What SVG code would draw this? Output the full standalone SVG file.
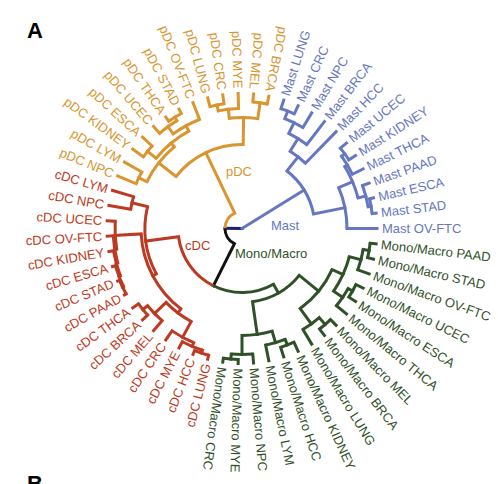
<svg xmlns="http://www.w3.org/2000/svg" width="498" height="484" viewBox="0 0 498 484">
<style>
.e{fill:none;stroke-width:3;stroke-linecap:square}
.a{fill:none;stroke-width:3}
.ms{stroke:#6677C2}.pd{stroke:#D9952E}.cd{stroke:#BD3A22}.mo{stroke:#2F5128}.bk{stroke:#111111}.nv{stroke:#1C1F6E}
text{font-family:"Liberation Sans",Arial,sans-serif;font-size:13px}
.l{dominant-baseline:central}
.f{text-anchor:end}
.tms{fill:#6677C2}.tpd{fill:#D9952E}.tcd{fill:#BD3A22}.tmo{fill:#2F5128}
</style>
<rect width="498" height="484" fill="#ffffff"/>
<g id="connectors" transform="translate(242,228.5)">
<!-- root -->
<line class="e nv" x1="0" x2="17" transform="rotate(180.55)"/>
<line class="e ms" x1="0" x2="73" transform="rotate(328.295)"/>
<circle class="a bk" r="17" pathLength="360" stroke-dasharray="63.985 400" transform="rotate(116.565)"/>
<circle class="a pd" r="17" pathLength="360" stroke-dasharray="63.984 400" transform="rotate(180.55)"/>
<line class="e bk" x1="17" x2="64" transform="rotate(116.565)"/>
<line class="e pd" x1="17" x2="84" transform="rotate(244.534)"/>
<!-- Mast -->
<circle class="a ms" r="73" pathLength="360" stroke-dasharray="40.5 400" transform="rotate(308.045)"/>
<circle class="a ms" r="91" pathLength="360" stroke-dasharray="12.273 400" transform="rotate(301.909)"/>
<circle class="a ms" r="106" pathLength="360" stroke-dasharray="11.454 400" transform="rotate(296.182)"/>
<circle class="a ms" r="118" pathLength="360" stroke-dasharray="9.818 400" transform="rotate(291.273)"/>
<circle class="a ms" r="126" pathLength="360" stroke-dasharray="6.545 400" transform="rotate(288)"/>
<circle class="a ms" r="105" pathLength="360" stroke-dasharray="22.909 400" transform="rotate(337.091)"/>
<circle class="a ms" r="120" pathLength="360" stroke-dasharray="16.364 400" transform="rotate(328.909)"/>
<circle class="a ms" r="123" pathLength="360" stroke-dasharray="9.818 400" transform="rotate(324)"/>
<circle class="a ms" r="127" pathLength="360" stroke-dasharray="6.546 400" transform="rotate(320.727)"/>
<circle class="a ms" r="128" pathLength="360" stroke-dasharray="9.818 400" transform="rotate(340.364)"/>
<circle class="a ms" r="131" pathLength="360" stroke-dasharray="6.546 400" transform="rotate(346.909)"/>
<line class="e ms" x1="73" x2="91" transform="rotate(308.045)"/>
<line class="e ms" x1="73" x2="105" transform="rotate(348.545)"/>
<line class="e ms" x1="91" x2="106" transform="rotate(301.909)"/>
<line class="e ms" x1="91" x2="135" transform="rotate(314.182)"/>
<line class="e ms" x1="106" x2="118" transform="rotate(296.182)"/>
<line class="e ms" x1="106" x2="135" transform="rotate(307.636)"/>
<line class="e ms" x1="118" x2="126" transform="rotate(291.273)"/>
<line class="e ms" x1="118" x2="135" transform="rotate(301.091)"/>
<line class="e ms" x1="126" x2="135" transform="rotate(288)"/>
<line class="e ms" x1="126" x2="135" transform="rotate(294.545)"/>
<line class="e ms" x1="105" x2="120" transform="rotate(337.091)"/>
<line class="e ms" x1="105" x2="135" transform="rotate(360)"/>
<line class="e ms" x1="120" x2="123" transform="rotate(328.909)"/>
<line class="e ms" x1="120" x2="128" transform="rotate(345.273)"/>
<line class="e ms" x1="123" x2="127" transform="rotate(324)"/>
<line class="e ms" x1="123" x2="135" transform="rotate(333.818)"/>
<line class="e ms" x1="127" x2="135" transform="rotate(320.727)"/>
<line class="e ms" x1="127" x2="135" transform="rotate(327.273)"/>
<line class="e ms" x1="128" x2="135" transform="rotate(340.364)"/>
<line class="e ms" x1="128" x2="131" transform="rotate(350.182)"/>
<line class="e ms" x1="131" x2="135" transform="rotate(346.909)"/>
<line class="e ms" x1="131" x2="135" transform="rotate(353.455)"/>
<!-- pDC -->
<circle class="a pd" r="84" pathLength="360" stroke-dasharray="52.568 400" transform="rotate(218.25)"/>
<circle class="a pd" r="106" pathLength="360" stroke-dasharray="24.136 400" transform="rotate(206.182)"/>
<circle class="a pd" r="115" pathLength="360" stroke-dasharray="6.546 400" transform="rotate(202.909)"/>
<circle class="a pd" r="111" pathLength="360" stroke-dasharray="22.091 400" transform="rotate(219.273)"/>
<circle class="a pd" r="122" pathLength="360" stroke-dasharray="6.545 400" transform="rotate(216)"/>
<circle class="a pd" r="117" pathLength="360" stroke-dasharray="14.727 400" transform="rotate(234)"/>
<circle class="a pd" r="126" pathLength="360" stroke-dasharray="9.818 400" transform="rotate(229.091)"/>
<circle class="a pd" r="130" pathLength="360" stroke-dasharray="6.546 400" transform="rotate(235.636)"/>
<circle class="a pd" r="111" pathLength="360" stroke-dasharray="14.727 400" transform="rotate(263.455)"/>
<circle class="a pd" r="120" pathLength="360" stroke-dasharray="9.819 400" transform="rotate(258.545)"/>
<circle class="a pd" r="126" pathLength="360" stroke-dasharray="6.545 400" transform="rotate(255.273)"/>
<circle class="a pd" r="127" pathLength="360" stroke-dasharray="6.546 400" transform="rotate(274.909)"/>
<line class="e pd" x1="84" x2="106" transform="rotate(218.25)"/>
<line class="e pd" x1="84" x2="111" transform="rotate(270.818)"/>
<line class="e pd" x1="106" x2="115" transform="rotate(206.182)"/>
<line class="e pd" x1="106" x2="111" transform="rotate(230.318)"/>
<line class="e pd" x1="115" x2="135" transform="rotate(202.909)"/>
<line class="e pd" x1="115" x2="135" transform="rotate(209.455)"/>
<line class="e pd" x1="111" x2="122" transform="rotate(219.273)"/>
<line class="e pd" x1="111" x2="117" transform="rotate(241.364)"/>
<line class="e pd" x1="122" x2="135" transform="rotate(216)"/>
<line class="e pd" x1="122" x2="135" transform="rotate(222.545)"/>
<line class="e pd" x1="117" x2="126" transform="rotate(234)"/>
<line class="e pd" x1="117" x2="135" transform="rotate(248.727)"/>
<line class="e pd" x1="126" x2="135" transform="rotate(229.091)"/>
<line class="e pd" x1="126" x2="130" transform="rotate(238.909)"/>
<line class="e pd" x1="130" x2="135" transform="rotate(235.636)"/>
<line class="e pd" x1="130" x2="135" transform="rotate(242.182)"/>
<line class="e pd" x1="111" x2="120" transform="rotate(263.455)"/>
<line class="e pd" x1="111" x2="127" transform="rotate(278.182)"/>
<line class="e pd" x1="120" x2="126" transform="rotate(258.545)"/>
<line class="e pd" x1="120" x2="135" transform="rotate(268.364)"/>
<line class="e pd" x1="126" x2="135" transform="rotate(255.273)"/>
<line class="e pd" x1="126" x2="135" transform="rotate(261.818)"/>
<line class="e pd" x1="127" x2="135" transform="rotate(274.909)"/>
<line class="e pd" x1="127" x2="135" transform="rotate(281.455)"/>
<!-- black node -->
<circle class="a mo" r="64" pathLength="360" stroke-dasharray="56.02 400" transform="rotate(60.545)"/>
<circle class="a cd" r="64" pathLength="360" stroke-dasharray="56.02 400" transform="rotate(116.565)"/>
<line class="e mo" x1="64" x2="74" transform="rotate(60.545)"/>
<line class="e cd" x1="64" x2="97" transform="rotate(172.585)"/>
<!-- cDC -->
<circle class="a cd" r="97" pathLength="360" stroke-dasharray="41.011 400" transform="rotate(152.08)"/>
<circle class="a cd" r="113" pathLength="360" stroke-dasharray="6.546 400" transform="rotate(189.818)"/>
<circle class="a cd" r="101" pathLength="360" stroke-dasharray="49.705 400" transform="rotate(127.227)"/>
<circle class="a cd" r="127" pathLength="360" stroke-dasharray="12.682 400" transform="rotate(170.591)"/>
<circle class="a cd" r="129" pathLength="360" stroke-dasharray="12.272 400" transform="rotate(164.455)"/>
<circle class="a cd" r="130.5" pathLength="360" stroke-dasharray="11.455 400" transform="rotate(158.727)"/>
<circle class="a cd" r="132" pathLength="360" stroke-dasharray="9.818 400" transform="rotate(153.818)"/>
<circle class="a cd" r="133" pathLength="360" stroke-dasharray="6.546 400" transform="rotate(150.545)"/>
<circle class="a cd" r="106" pathLength="360" stroke-dasharray="17.182 400" transform="rotate(118.636)"/>
<circle class="a cd" r="124" pathLength="360" stroke-dasharray="11.455 400" transform="rotate(112.909)"/>
<circle class="a cd" r="128" pathLength="360" stroke-dasharray="9.818 400" transform="rotate(108)"/>
<circle class="a cd" r="131" pathLength="360" stroke-dasharray="6.546 400" transform="rotate(104.727)"/>
<circle class="a cd" r="122" pathLength="360" stroke-dasharray="9.818 400" transform="rotate(130.909)"/>
<circle class="a cd" r="128" pathLength="360" stroke-dasharray="6.545 400" transform="rotate(137.455)"/>
<line class="e cd" x1="97" x2="101" transform="rotate(152.08)"/>
<line class="e cd" x1="97" x2="113" transform="rotate(193.091)"/>
<line class="e cd" x1="113" x2="135" transform="rotate(189.818)"/>
<line class="e cd" x1="113" x2="135" transform="rotate(196.364)"/>
<line class="e cd" x1="101" x2="106" transform="rotate(127.227)"/>
<line class="e cd" x1="101" x2="127" transform="rotate(176.932)"/>
<line class="e cd" x1="127" x2="135" transform="rotate(183.273)"/>
<line class="e cd" x1="127" x2="129" transform="rotate(170.591)"/>
<line class="e cd" x1="129" x2="135" transform="rotate(176.727)"/>
<line class="e cd" x1="129" x2="130.5" transform="rotate(164.455)"/>
<line class="e cd" x1="130.5" x2="135" transform="rotate(170.182)"/>
<line class="e cd" x1="130.5" x2="132" transform="rotate(158.727)"/>
<line class="e cd" x1="132" x2="135" transform="rotate(163.636)"/>
<line class="e cd" x1="132" x2="133" transform="rotate(153.818)"/>
<line class="e cd" x1="133" x2="135" transform="rotate(150.545)"/>
<line class="e cd" x1="133" x2="135" transform="rotate(157.091)"/>
<line class="e cd" x1="106" x2="124" transform="rotate(118.636)"/>
<line class="e cd" x1="106" x2="122" transform="rotate(135.818)"/>
<line class="e cd" x1="124" x2="135" transform="rotate(124.364)"/>
<line class="e cd" x1="124" x2="128" transform="rotate(112.909)"/>
<line class="e cd" x1="128" x2="135" transform="rotate(117.818)"/>
<line class="e cd" x1="128" x2="131" transform="rotate(108)"/>
<line class="e cd" x1="131" x2="135" transform="rotate(104.727)"/>
<line class="e cd" x1="131" x2="135" transform="rotate(111.273)"/>
<line class="e cd" x1="122" x2="135" transform="rotate(130.909)"/>
<line class="e cd" x1="122" x2="128" transform="rotate(140.727)"/>
<line class="e cd" x1="128" x2="135" transform="rotate(137.455)"/>
<line class="e cd" x1="128" x2="135" transform="rotate(144)"/>
<!-- Mono/Macro -->
<circle class="a mo" r="74" pathLength="360" stroke-dasharray="42.545 400" transform="rotate(39.273)"/>
<circle class="a mo" r="107" pathLength="360" stroke-dasharray="16.364 400" transform="rotate(73.636)"/>
<circle class="a mo" r="119" pathLength="360" stroke-dasharray="9.818 400" transform="rotate(68.727)"/>
<circle class="a mo" r="125" pathLength="360" stroke-dasharray="6.545 400" transform="rotate(65.455)"/>
<circle class="a mo" r="126" pathLength="360" stroke-dasharray="9.818 400" transform="rotate(85.091)"/>
<circle class="a mo" r="131" pathLength="360" stroke-dasharray="6.546 400" transform="rotate(91.636)"/>
<circle class="a mo" r="99" pathLength="360" stroke-dasharray="29.455 400" transform="rotate(24.545)"/>
<circle class="a mo" r="111" pathLength="360" stroke-dasharray="19.637 400" transform="rotate(14.727)"/>
<circle class="a mo" r="123" pathLength="360" stroke-dasharray="9.818 400" transform="rotate(9.818)"/>
<circle class="a mo" r="129" pathLength="360" stroke-dasharray="6.546 400" transform="rotate(6.545)"/>
<circle class="a mo" r="122" pathLength="360" stroke-dasharray="9.818 400" transform="rotate(29.455)"/>
<circle class="a mo" r="127" pathLength="360" stroke-dasharray="6.545 400" transform="rotate(26.182)"/>
<circle class="a mo" r="118" pathLength="360" stroke-dasharray="9.818 400" transform="rotate(49.091)"/>
<circle class="a mo" r="127" pathLength="360" stroke-dasharray="6.546 400" transform="rotate(45.818)"/>
<line class="e mo" x1="74" x2="107" transform="rotate(81.818)"/>
<line class="e mo" x1="74" x2="99" transform="rotate(39.273)"/>
<line class="e mo" x1="107" x2="119" transform="rotate(73.636)"/>
<line class="e mo" x1="107" x2="126" transform="rotate(90)"/>
<line class="e mo" x1="119" x2="125" transform="rotate(68.727)"/>
<line class="e mo" x1="119" x2="135" transform="rotate(78.545)"/>
<line class="e mo" x1="125" x2="135" transform="rotate(65.455)"/>
<line class="e mo" x1="125" x2="135" transform="rotate(72)"/>
<line class="e mo" x1="126" x2="135" transform="rotate(85.091)"/>
<line class="e mo" x1="126" x2="131" transform="rotate(94.909)"/>
<line class="e mo" x1="131" x2="135" transform="rotate(91.636)"/>
<line class="e mo" x1="131" x2="135" transform="rotate(98.182)"/>
<line class="e mo" x1="99" x2="111" transform="rotate(24.545)"/>
<line class="e mo" x1="99" x2="118" transform="rotate(54)"/>
<line class="e mo" x1="111" x2="123" transform="rotate(14.727)"/>
<line class="e mo" x1="111" x2="122" transform="rotate(34.364)"/>
<line class="e mo" x1="123" x2="129" transform="rotate(9.818)"/>
<line class="e mo" x1="123" x2="135" transform="rotate(19.636)"/>
<line class="e mo" x1="129" x2="135" transform="rotate(6.545)"/>
<line class="e mo" x1="129" x2="135" transform="rotate(13.091)"/>
<line class="e mo" x1="122" x2="127" transform="rotate(29.455)"/>
<line class="e mo" x1="122" x2="135" transform="rotate(39.273)"/>
<line class="e mo" x1="127" x2="135" transform="rotate(26.182)"/>
<line class="e mo" x1="127" x2="135" transform="rotate(32.727)"/>
<line class="e mo" x1="118" x2="127" transform="rotate(49.091)"/>
<line class="e mo" x1="118" x2="135" transform="rotate(58.909)"/>
<line class="e mo" x1="127" x2="135" transform="rotate(45.818)"/>
<line class="e mo" x1="127" x2="135" transform="rotate(52.364)"/>
</g>
<g id="clade-labels">
<g id="lab-pdc"><text class="tpd" x="226" y="176">pDC</text></g>
<g id="lab-mast"><text class="tms" x="271" y="230">Mast</text></g>
<g id="lab-cdc"><text class="tcd" x="185" y="250">cDC</text></g>
<g id="lab-mono"><text class="tmo" x="235" y="258">Mono/Macro</text></g>
</g>
<g id="leaves" transform="translate(242,228.5)">
<g id="mono-paad"><text class="l tmo" transform="rotate(6.545) translate(140 0)">Mono/Macro PAAD</text></g>
<g id="mono-stad"><text class="l tmo" transform="rotate(13.091) translate(140 0)">Mono/Macro STAD</text></g>
<g id="mono-ovftc"><text class="l tmo" transform="rotate(19.636) translate(140 0)">Mono/Macro OV-FTC</text></g>
<g id="mono-ucec"><text class="l tmo" transform="rotate(26.182) translate(140 0)">Mono/Macro UCEC</text></g>
<g id="mono-esca"><text class="l tmo" transform="rotate(32.727) translate(140 0)">Mono/Macro ESCA</text></g>
<g id="mono-thca"><text class="l tmo" transform="rotate(39.273) translate(140 0)">Mono/Macro THCA</text></g>
<g id="mono-mel"><text class="l tmo" transform="rotate(45.818) translate(140 0)">Mono/Macro MEL</text></g>
<g id="mono-brca"><text class="l tmo" transform="rotate(52.364) translate(140 0)">Mono/Macro BRCA</text></g>
<g id="mono-lung"><text class="l tmo" transform="rotate(58.909) translate(140 0)">Mono/Macro LUNG</text></g>
<g id="mono-kidney"><text class="l tmo" transform="rotate(65.455) translate(140 0)">Mono/Macro KIDNEY</text></g>
<g id="mono-hcc"><text class="l tmo" transform="rotate(72) translate(140 0)">Mono/Macro HCC</text></g>
<g id="mono-lym"><text class="l tmo" transform="rotate(78.545) translate(140 0)">Mono/Macro LYM</text></g>
<g id="mono-npc"><text class="l tmo" transform="rotate(85.091) translate(140 0)">Mono/Macro NPC</text></g>
<g id="mono-mye"><text class="l tmo" transform="rotate(91.636) translate(140 0)">Mono/Macro MYE</text></g>
<g id="mono-crc"><text class="l tmo" transform="rotate(98.182) translate(140 0)">Mono/Macro CRC</text></g>
<g id="cdc-lung"><text class="l f tcd" transform="rotate(104.727) translate(140 0) rotate(180)">cDC LUNG</text></g>
<g id="cdc-hcc"><text class="l f tcd" transform="rotate(111.273) translate(140 0) rotate(180)">cDC HCC</text></g>
<g id="cdc-mye"><text class="l f tcd" transform="rotate(117.818) translate(140 0) rotate(180)">cDC MYE</text></g>
<g id="cdc-crc"><text class="l f tcd" transform="rotate(124.364) translate(140 0) rotate(180)">cDC CRC</text></g>
<g id="cdc-mel"><text class="l f tcd" transform="rotate(130.909) translate(140 0) rotate(180)">cDC MEL</text></g>
<g id="cdc-brca"><text class="l f tcd" transform="rotate(137.455) translate(140 0) rotate(180)">cDC BRCA</text></g>
<g id="cdc-thca"><text class="l f tcd" transform="rotate(144) translate(140 0) rotate(180)">cDC THCA</text></g>
<g id="cdc-paad"><text class="l f tcd" transform="rotate(150.545) translate(140 0) rotate(180)">cDC PAAD</text></g>
<g id="cdc-stad"><text class="l f tcd" transform="rotate(157.091) translate(140 0) rotate(180)">cDC STAD</text></g>
<g id="cdc-esca"><text class="l f tcd" transform="rotate(163.636) translate(140 0) rotate(180)">cDC ESCA</text></g>
<g id="cdc-kidney"><text class="l f tcd" transform="rotate(170.182) translate(140 0) rotate(180)">cDC KIDNEY</text></g>
<g id="cdc-ovftc"><text class="l f tcd" transform="rotate(176.727) translate(140 0) rotate(180)">cDC OV-FTC</text></g>
<g id="cdc-ucec"><text class="l f tcd" transform="rotate(183.273) translate(140 0) rotate(180)">cDC UCEC</text></g>
<g id="cdc-npc"><text class="l f tcd" transform="rotate(189.818) translate(140 0) rotate(180)">cDC NPC</text></g>
<g id="cdc-lym"><text class="l f tcd" transform="rotate(196.364) translate(140 0) rotate(180)">cDC LYM</text></g>
<g id="pdc-npc"><text class="l f tpd" transform="rotate(202.909) translate(140 0) rotate(180)">pDC NPC</text></g>
<g id="pdc-lym"><text class="l f tpd" transform="rotate(209.455) translate(140 0) rotate(180)">pDC LYM</text></g>
<g id="pdc-kidney"><text class="l f tpd" transform="rotate(216) translate(140 0) rotate(180)">pDC KIDNEY</text></g>
<g id="pdc-esca"><text class="l f tpd" transform="rotate(222.545) translate(140 0) rotate(180)">pDC ESCA</text></g>
<g id="pdc-ucec"><text class="l f tpd" transform="rotate(229.091) translate(140 0) rotate(180)">pDC UCEC</text></g>
<g id="pdc-thca"><text class="l f tpd" transform="rotate(235.636) translate(140 0) rotate(180)">pDC THCA</text></g>
<g id="pdc-stad"><text class="l f tpd" transform="rotate(242.182) translate(140 0) rotate(180)">pDC STAD</text></g>
<g id="pdc-ovftc"><text class="l f tpd" transform="rotate(248.727) translate(140 0) rotate(180)">pDC OV-FTC</text></g>
<g id="pdc-lung"><text class="l f tpd" transform="rotate(255.273) translate(140 0) rotate(180)">pDC LUNG</text></g>
<g id="pdc-crc"><text class="l f tpd" transform="rotate(261.818) translate(140 0) rotate(180)">pDC CRC</text></g>
<g id="pdc-mye"><text class="l f tpd" transform="rotate(268.364) translate(140 0) rotate(180)">pDC MYE</text></g>
<g id="pdc-mel"><text class="l f tpd" transform="rotate(274.909) translate(140 0) rotate(180)">pDC MEL</text></g>
<g id="pdc-brca"><text class="l f tpd" transform="rotate(281.455) translate(140 0) rotate(180)">pDC BRCA</text></g>
<g id="mast-lung"><text class="l tms" transform="rotate(288) translate(140 0)">Mast LUNG</text></g>
<g id="mast-crc"><text class="l tms" transform="rotate(294.545) translate(140 0)">Mast CRC</text></g>
<g id="mast-npc"><text class="l tms" transform="rotate(301.091) translate(140 0)">Mast NPC</text></g>
<g id="mast-brca"><text class="l tms" transform="rotate(307.636) translate(140 0)">Mast BRCA</text></g>
<g id="mast-hcc"><text class="l tms" transform="rotate(314.182) translate(140 0)">Mast HCC</text></g>
<g id="mast-ucec"><text class="l tms" transform="rotate(320.727) translate(140 0)">Mast UCEC</text></g>
<g id="mast-kidney"><text class="l tms" transform="rotate(327.273) translate(140 0)">Mast KIDNEY</text></g>
<g id="mast-thca"><text class="l tms" transform="rotate(333.818) translate(140 0)">Mast THCA</text></g>
<g id="mast-paad"><text class="l tms" transform="rotate(340.364) translate(140 0)">Mast PAAD</text></g>
<g id="mast-esca"><text class="l tms" transform="rotate(346.909) translate(140 0)">Mast ESCA</text></g>
<g id="mast-stad"><text class="l tms" transform="rotate(353.455) translate(140 0)">Mast STAD</text></g>
<g id="mast-ovftc"><text class="l tms" transform="rotate(0) translate(140 0)">Mast OV-FTC</text></g>
</g>
<g id="panel-labels">
<text x="27" y="38" style="font-size:22px;font-weight:bold">A</text>
<text x="27" y="491" style="font-size:22px;font-weight:bold">B</text>
</g>
</svg>
